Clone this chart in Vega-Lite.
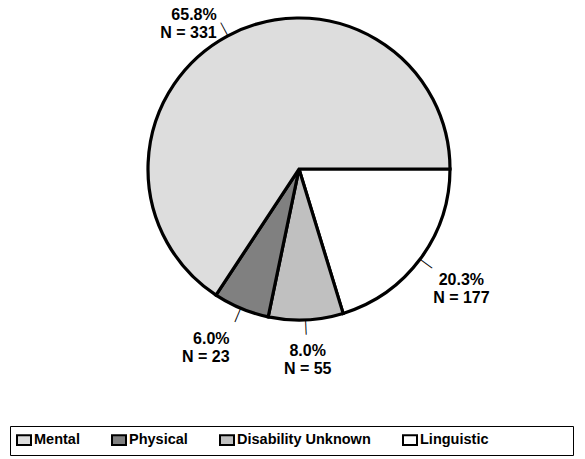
{
  "$schema": "https://vega.github.io/schema/vega-lite/v6.json",
  "width": 572,
  "height": 338,
  "autosize": {"type": "none"},
  "padding": {"left": 13, "top": 0, "right": 0, "bottom": 121},
  "background": "white",
  "config": {"view": {"stroke": null}},
  "data": {
    "values": [
      {"cat": "Linguistic", "pct": 20.3, "n": 177, "rank": 1, "label": "20.3%\nN = 177"},
      {"cat": "Disability Unknown", "pct": 8.0, "n": 55, "rank": 2, "label": "8.0%\nN = 55"},
      {"cat": "Physical", "pct": 6.0, "n": 23, "rank": 3, "label": "6.0%\nN = 23"},
      {"cat": "Mental", "pct": 65.8, "n": 331, "rank": 4, "label": "65.8%\nN = 331"}
    ]
  },
  "encoding": {
    "theta": {"field": "pct", "type": "quantitative", "stack": true, "scale": {"range": [1.5707963, 7.8539816]}},
    "order": {"field": "rank", "type": "quantitative"},
    "detail": {"field": "cat", "type": "nominal"}
  },
  "layer": [
    {
      "mark": {"type": "arc", "outerRadius": 151, "stroke": "black", "strokeWidth": 3.2, "strokeJoin": "miter"},
      "encoding": {
        "color": {
          "field": "cat", "type": "nominal",
          "scale": {"domain": ["Mental", "Physical", "Disability Unknown", "Linguistic"], "range": ["#dddddd", "#808080", "#c0c0c0", "#ffffff"]},
          "legend": {
            "orient": "none", "legendX": -3, "legendY": 426, "direction": "horizontal",
            "title": " ", "titleOrient": "right", "titlePadding": 79, "titleFontSize": 10,
            "padding": 6, "strokeColor": "black", "fillColor": "white",
            "columnPadding": 28,
            "labelFont": "Liberation Sans", "labelFontWeight": "bold", "labelFontSize": 14.5, "labelColor": "black", "labelOffset": 2,
            "symbolType": "M-1,-0.7H1V0.7H-1Z", "symbolSize": 196, "symbolStrokeColor": "black", "symbolStrokeWidth": 2, "symbolOpacity": 1
          }
        }
      }
    },
    {
      "mark": {"type": "text", "radius": 159, "text": "—", "font": "Liberation Sans", "fontSize": 14, "color": "black", "align": "center", "baseline": "middle"},
      "encoding": {
        "angle": {"field": "cat", "type": "nominal", "scale": {"type": "ordinal", "domain": ["Linguistic", "Disability Unknown", "Physical", "Mental"], "range": [36.5, 87.4, 112.6, 241.7]}, "legend": null}
      }
    },
    {
      "mark": {"type": "text", "radius": 165, "dx": -4, "dy": -9, "align": "right", "baseline": "middle", "lineBreak": "\n", "lineHeight": 18, "font": "Liberation Sans", "fontWeight": "bold", "fontSize": 16, "color": "black"},
      "encoding": {"text": {"condition": {"test": "datum.cat === 'Mental'", "field": "label"}, "value": ""}}
    },
    {
      "mark": {"type": "text", "radius": 194, "dx": 5, "dy": -9, "align": "right", "baseline": "middle", "lineBreak": "\n", "lineHeight": 18, "font": "Liberation Sans", "fontWeight": "bold", "fontSize": 16, "color": "black"},
      "encoding": {"text": {"condition": {"test": "datum.cat === 'Physical'", "field": "label"}, "value": ""}}
    },
    {
      "mark": {"type": "text", "radius": 191, "dy": -9, "align": "center", "baseline": "middle", "lineBreak": "\n", "lineHeight": 18, "font": "Liberation Sans", "fontWeight": "bold", "fontSize": 16, "color": "black"},
      "encoding": {"text": {"condition": {"test": "datum.cat === 'Disability Unknown'", "field": "label"}, "value": ""}}
    },
    {
      "mark": {"type": "text", "radius": 202, "dy": -9, "align": "center", "baseline": "middle", "lineBreak": "\n", "lineHeight": 18, "font": "Liberation Sans", "fontWeight": "bold", "fontSize": 16, "color": "black"},
      "encoding": {"text": {"condition": {"test": "datum.cat === 'Linguistic'", "field": "label"}, "value": ""}}
    }
  ]
}
